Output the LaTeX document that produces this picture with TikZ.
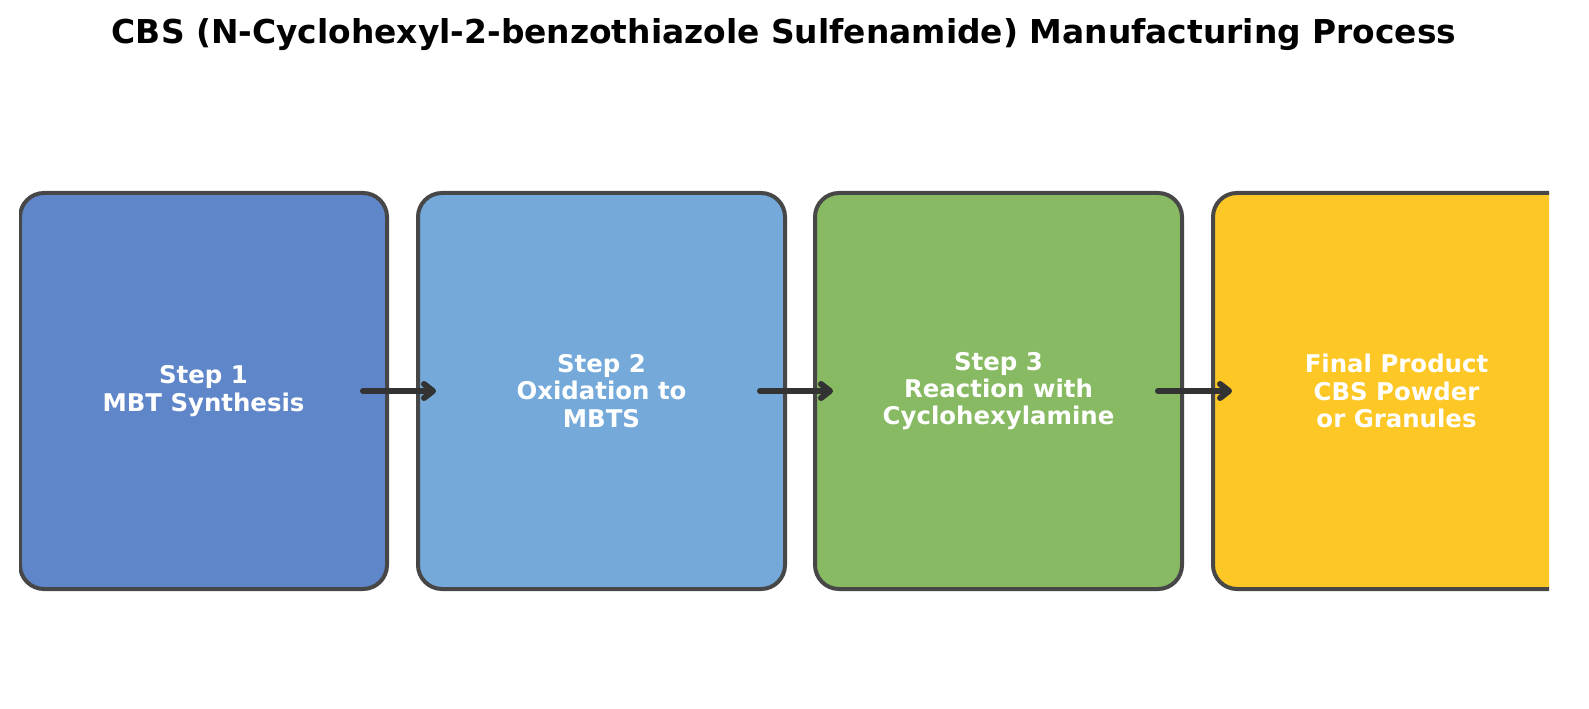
\documentclass[tikz,border=0pt]{standalone}
\usepackage{fontspec}
\setmainfont{DejaVu Sans}
\usetikzlibrary{arrows.meta,calc}
\begin{document}
\begin{tikzpicture}[x=1bp,y=-1bp,
  box/.style={draw=black!72,line width=4bp,rounded corners=24bp,minimum width=367bp,minimum height=396bp,inner sep=0pt,
    text=white,font=\bfseries\fontsize{24.5}{27.5}\selectfont,align=center},
  arr/.style={draw=black!80,line width=6bp,-{Straight Barb[length=9bp,width=14bp,line cap=round,line join=round]},line cap=round}]
\useasboundingbox (0,0) rectangle (1589,709);
\node[font=\bfseries\fontsize{33}{36}\selectfont] (title) at (784,35) {CBS (N-Cyclohexyl-2-benzothiazole Sulfenamide) Manufacturing Process};
\begin{scope}
\clip (19,0) rectangle (1549,709);
\node[box,fill={rgb,255:red,95;green,134;blue,201}] (b1) at (203.5,391) {Step 1\\MBT Synthesis};
\node[box,fill={rgb,255:red,116;green,169;blue,217}] (b2) at (601.5,391) {Step 2\\Oxidation to\\MBTS};
\node[box,fill={rgb,255:red,135;green,186;blue,99}] (b3) at (998.5,391) {Step 3\\Reaction with\\Cyclohexylamine};
\node[box,fill={rgb,255:red,253;green,199;blue,38}] (b4) at (1396.5,391) {Final Product\\CBS Powder\\or Granules};
\end{scope}
\coordinate (a1s) at ($(b1.east)+(-26,0)$); \coordinate (a1e) at ($(b2.west)+(20,0)$);
\coordinate (a2s) at ($(b2.east)+(-27,0)$); \coordinate (a2e) at ($(b3.west)+(20,0)$);
\coordinate (a3s) at ($(b3.east)+(-26,0)$); \coordinate (a3e) at ($(b4.west)+(21,0)$);
\draw[arr] (a1s) -- (a1e);
\draw[arr] (a2s) -- (a2e);
\draw[arr] (a3s) -- (a3e);
\end{tikzpicture}
\end{document}
